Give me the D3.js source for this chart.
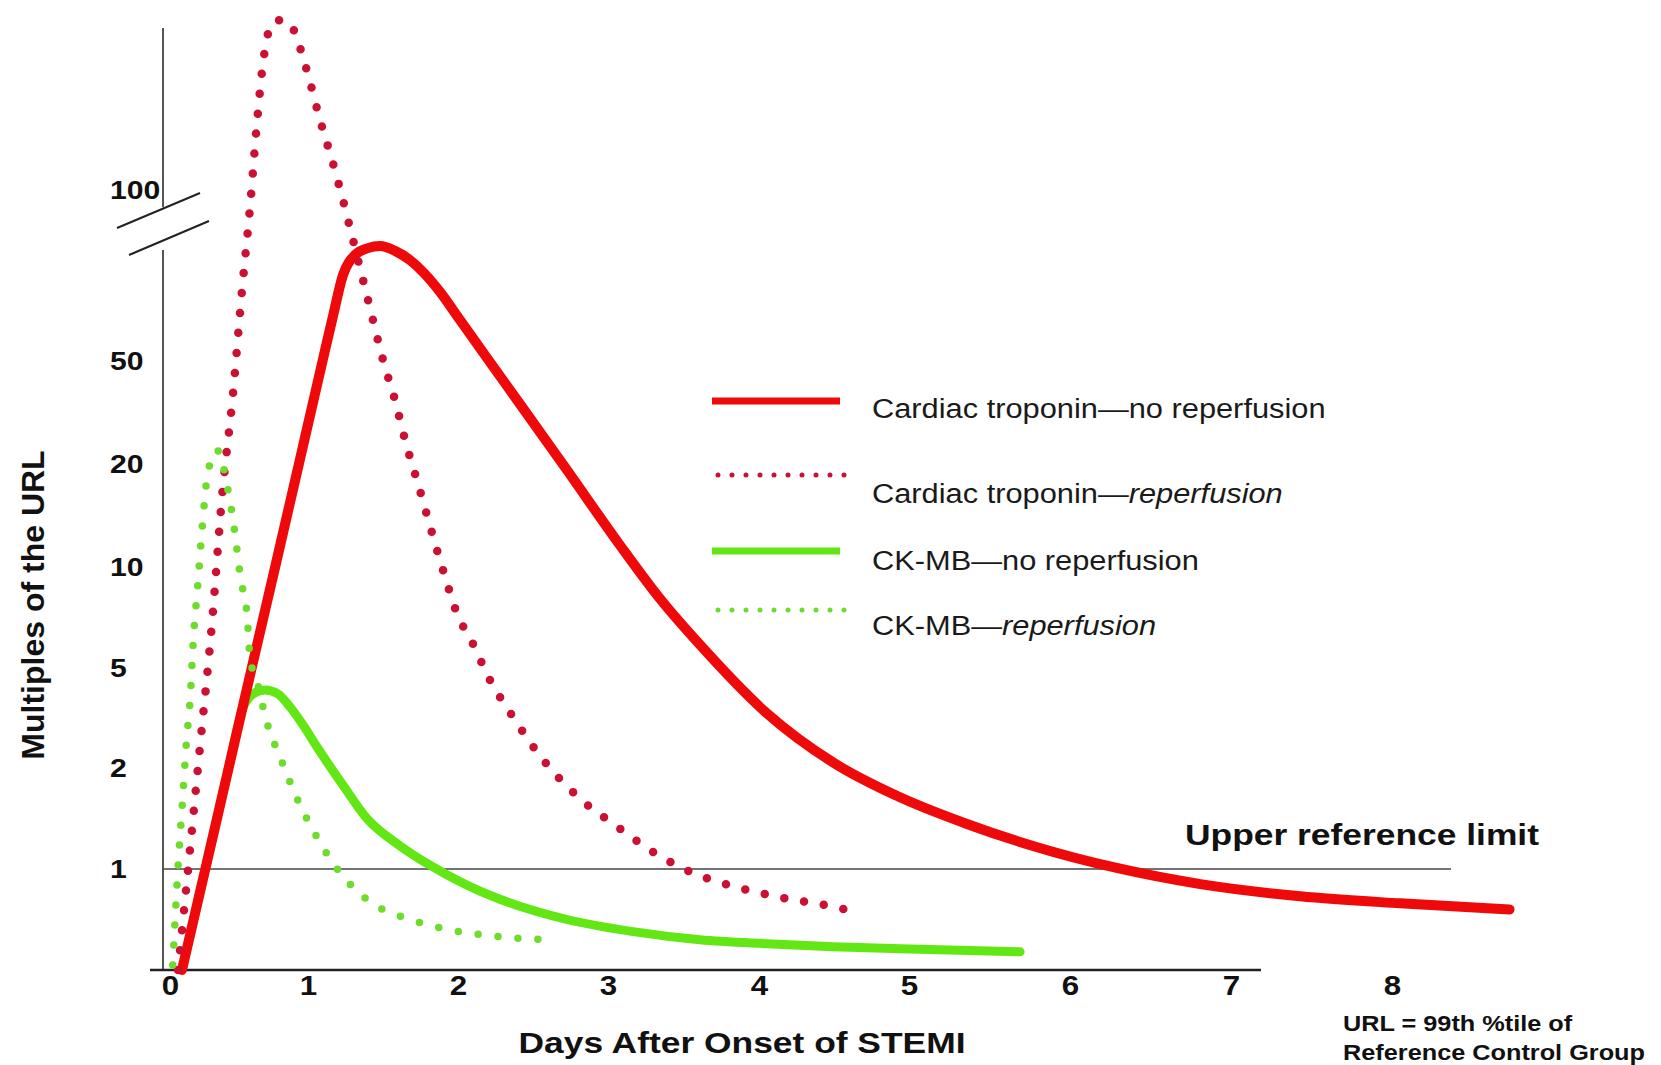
<!DOCTYPE html>
<html>
<head>
<meta charset="utf-8">
<script src="https://cdnjs.cloudflare.com/ajax/libs/d3/7.8.5/d3.min.js"></script>
<style>
  body { margin: 0; background: #fff; }
  svg { display: block; font-family: "Liberation Sans", Arial, sans-serif; }
</style>
</head>
<body>
<svg id="chart" width="1661" height="1065"></svg>
<script>
// [day after onset, multiples of URL]
const tropNoReperfusion = [
  [0.087, 0], [0.256, 1], [0.425, 2], [0.592, 5], [0.762, 10], [0.934, 20], [1.097, 50],
  [1.167, 63.2], [1.233, 75.1], [1.313, 81], [1.4, 83], [1.48, 83.6], [1.58, 82.2],
  [1.68, 79.5], [1.78, 75.4], [1.88, 70.2], [2.013, 62], [2.28, 45.6], [2.727, 19.4],
  [3.08, 12.1], [3.34, 8.47], [3.61, 6.14], [4.05, 3.65], [4.5, 2.15], [4.94, 1.71],
  [5.36, 1.446], [5.77, 1.228], [6.29, 1.01], [6.81, 0.85], [7.43, 0.73], [8.05, 0.66],
  [8.73, 0.6]
]
const tropReperfusion = [
  [0.058, 0], [0.145, 1.19], [0.217, 2.63], [0.304, 7.2], [0.377, 16.8], [0.457, 40.7],
  [0.522, 70.8], [0.58, 95], [0.63, 119.6], [0.674, 137.1], [0.746, 149.1], [0.804, 149.7],
  [0.862, 149.1], [0.928, 143.3], [1.013, 131.6], [1.08, 120.5], [1.16, 108.8], [1.233, 97.1],
  [1.3, 85.4], [1.367, 73.7], [1.433, 62], [1.5, 50.3], [1.58, 38.6], [1.647, 27],
  [1.727, 18.4], [1.847, 12.3], [1.927, 9.2], [1.993, 7.7], [2.093, 6.3], [2.213, 4.64],
  [2.367, 3.53], [2.527, 2.48], [2.827, 1.68], [3.06, 1.42], [3.298, 1.17], [3.563, 0.96],
  [3.854, 0.82], [4.14, 0.72], [4.453, 0.64], [4.607, 0.59]
]
const ckmbNoReperfusion = [
  [0.087, 0], [0.256, 1], [0.425, 2], [0.529, 3.8], [0.601, 4.22], [0.688, 4.34],
  [0.783, 4.22], [0.87, 3.83], [0.964, 3.29], [1.06, 2.63], [1.233, 1.83], [1.393, 1.5],
  [1.613, 1.23], [1.833, 1.02], [2.147, 0.78], [2.28, 0.7], [2.727, 0.5], [3.166, 0.38],
  [3.609, 0.3], [4.053, 0.26], [4.493, 0.23], [4.94, 0.21], [5.69, 0.18]
]
const ckmbReperfusion = [
  [0.02, 0.05], [0.06, 1.06], [0.09, 1.66], [0.12, 2.84], [0.145, 4.0], [0.17, 6.5],
  [0.20, 9.0], [0.23, 13.3], [0.275, 19.2], [0.34, 24], [0.42, 17.5], [0.47, 13.3],
  [0.51, 9.5], [0.56, 7.5], [0.58, 5.5], [0.63, 4.6], [0.70, 3.4], [0.80, 2.3], [0.92, 1.7],
  [1.05, 1.34], [1.20, 0.99], [1.40, 0.69], [1.68, 0.5], [1.97, 0.39], [2.28, 0.33], [2.59, 0.30]
]

const xTicks = [0, 1, 2, 3, 4, 5, 6, 7, 8]
const yTicks = [1, 2, 5, 10, 20, 50, 100]
const urlValue = 1

const legendItems = [
  { name: 'Cardiac troponin—', em: '', rest: 'no reperfusion', data: tropNoReperfusion, color: '#ee0a0a', dotted: false },
  { name: 'Cardiac troponin—', em: 'reperfusion', rest: '', data: tropReperfusion, color: '#cc1034', dotted: true },
  { name: 'CK-MB—', em: '', rest: 'no reperfusion', data: ckmbNoReperfusion, color: '#62e614', dotted: false },
  { name: 'CK-MB—', em: 'reperfusion', rest: '', data: ckmbReperfusion, color: '#6edc2a', dotted: true }
]
// drawing order: green solid under the red lines, green dots on top
const drawOrder = [2, 0, 1, 3]

const svg = d3.select('#chart')
const stretch = 1.16

// axis positions are uneven in the original figure
const xScale = d3.scaleLinear()
  .domain(xTicks)
  .range([170, 308, 458, 608, 759, 909, 1070, 1231, 1392])

const yScale = d3.scaleLinear()
  .domain([0, 1, 2, 5, 10, 20, 50, 100])
  .range([970, 869, 768, 668, 567, 464, 361, 190])

const axisX = 163

// y axis line with break
svg.append('line').attr('x1', axisX).attr('x2', axisX).attr('y1', 28).attr('y2', 207)
  .attr('stroke', '#555').attr('stroke-width', 2)
svg.append('line').attr('x1', axisX).attr('x2', axisX).attr('y1', 250).attr('y2', yScale(0))
  .attr('stroke', '#555').attr('stroke-width', 2)
svg.append('line').attr('x1', 117).attr('y1', 228).attr('x2', 200).attr('y2', 193)
  .attr('stroke', '#222').attr('stroke-width', 2)
svg.append('line').attr('x1', 129).attr('y1', 255).attr('x2', 209).attr('y2', 221)
  .attr('stroke', '#222').attr('stroke-width', 2)

// x axis line
svg.append('line').attr('x1', 150).attr('x2', 1261).attr('y1', yScale(0)).attr('y2', yScale(0))
  .attr('stroke', '#222').attr('stroke-width', 2.5)

// upper reference limit
svg.append('line').attr('x1', axisX).attr('x2', 1451).attr('y1', yScale(urlValue)).attr('y2', yScale(urlValue))
  .attr('stroke', '#444').attr('stroke-width', 1.6)

svg.append('g')
  .attr('transform', 'translate(110,0)')
  .call(d3.axisLeft(yScale).tickValues(yTicks).tickSize(0).tickFormat(d3.format('d')))
  .call(g => g.select('.domain').remove())
  .selectAll('text')
  .attr('x', 0)
  .attr('text-anchor', 'start')
  .attr('transform', `scale(${stretch},1)`)
  .attr('fill', '#111')
  .style('font-size', '26px')
  .style('font-weight', 'bold')
  .style('font-family', '"Liberation Sans", Arial, sans-serif')

svg.append('g')
  .attr('transform', `translate(0,${yScale(0)})`)
  .call(d3.axisBottom(xScale).tickValues(xTicks).tickSize(0).tickPadding(6).tickFormat(d3.format('d')))
  .call(g => g.select('.domain').remove())
  .selectAll('text')
  .attr('transform', `scale(${stretch},1)`)
  .attr('fill', '#111')
  .style('font-size', '27px')
  .style('font-weight', 'bold')
  .style('font-family', '"Liberation Sans", Arial, sans-serif')

const line = d3.line()
  .x(d => xScale(d[0]))
  .y(d => yScale(d[1]))
  .curve(d3.curveMonotoneX)

drawOrder.forEach(i => {
  const s = legendItems[i]
  const isRed = i < 2
  svg.append('path')
    .attr('d', line(s.data))
    .attr('fill', 'none')
    .attr('stroke', s.color)
    .attr('stroke-width', s.dotted ? (isRed ? 8.5 : 7.5) : (isRed ? 10 : 9))
    .attr('stroke-linecap', 'round')
    .attr('stroke-linejoin', 'round')
    .attr('stroke-dasharray', s.dotted ? '0 20' : null)
})

// legend
const legendY = [401, 475, 551, 610]
const legendText = [418, 503, 570, 635]
legendItems.forEach((s, i) => {
  svg.append('line')
    .attr('x1', s.dotted ? 718 : 712).attr('x2', s.dotted ? 845 : 840)
    .attr('y1', legendY[i]).attr('y2', legendY[i])
    .attr('stroke', s.color)
    .attr('stroke-width', s.dotted ? 5 : 7)
    .attr('stroke-linecap', s.dotted ? 'round' : 'butt')
    .attr('stroke-dasharray', s.dotted ? '0 14' : null)

  const t = svg.append('text')
    .attr('transform', `translate(872,${legendText[i]}) scale(1.1,1)`)
    .attr('fill', '#1a1a1a')
    .style('font-size', '28px')
  t.append('tspan').text(s.name)
  if (s.em) t.append('tspan').style('font-style', 'italic').text(s.em)
  if (s.rest) t.append('tspan').text(s.rest)
})

function label(str, x, y, size, opts = {}) {
  return svg.append('text')
    .attr('transform', `translate(${x},${y}) ${opts.rotate ? 'rotate(-90)' : `scale(${opts.sx || 1.18},1)`}`)
    .attr('text-anchor', opts.anchor || 'start')
    .attr('fill', '#111')
    .style('font-size', size + 'px')
    .style('font-weight', 'bold')
    .text(str)
}

label('Days After Onset of STEMI', 742, 1053, 30, { anchor: 'middle' })
label('Multiples of the URL', 44, 605, 32, { anchor: 'middle', rotate: true })
label('Upper reference limit', 1185, 845, 30)
label('URL = 99th %tile of', 1343, 1031, 22, { sx: 1.15 })
label('Reference Control Group', 1343, 1060, 22, { sx: 1.15 })
</script>
</body>
</html>
